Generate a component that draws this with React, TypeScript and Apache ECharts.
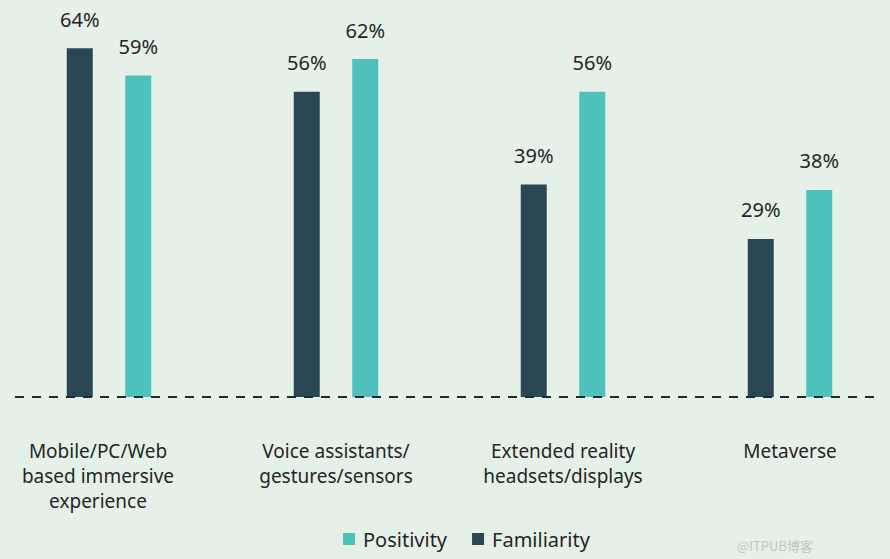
import React, { useEffect, useRef } from "react";
import * as echarts from "echarts";

const categories = [
  "Mobile/PC/Web\nbased immersive\nexperience",
  "Voice assistants/\ngestures/sensors",
  "Extended reality\nheadsets/displays",
  "Metaverse",
];
const familiarity = [64, 56, 39, 29];
const positivity = [59, 62, 56, 38];

const DARK = "#2b4756";
const TEAL = "#4dc2bc";
const TEXT = "#262626";
const FONT = "'Noto Sans', sans-serif";

export default function App() {
  const ref = useRef<HTMLDivElement>(null);
  useEffect(() => {
    if (!ref.current) return;
    const chart = echarts.init(ref.current, undefined, { renderer: "svg" });
    const label = {
      show: true,
      position: "top",
      distance: 19,
      formatter: "{c}%",
      color: TEXT,
      fontSize: 20,
      fontFamily: FONT,
    };
    chart.setOption({
      animation: false,
      backgroundColor: "#e5f0e8",
      textStyle: { fontFamily: FONT },
      grid: { left: 109, right: 100, top: 15.5, bottom: 162, containLabel: false },
      legend: {
        data: ["Positivity", "Familiarity"],
        bottom: 5,
        left: 338,
        itemWidth: 12,
        itemHeight: 12,
        itemGap: 25,
        icon: "rect",
        textStyle: { color: TEXT, fontSize: 20, fontFamily: FONT, padding: [0, 0, 0, 3] },
      },
      xAxis: {
        type: "category",
        boundaryGap: false,
        data: categories.map((c, i) =>
          i === 0 ? { value: c, textStyle: { padding: [0, 22, 0, 0] } } : c
        ),
        axisLine: { show: false },
        axisTick: { show: false },
        splitLine: { show: false },
        axisLabel: {
          color: TEXT,
          fontSize: 19,
          lineHeight: 25,
          margin: 41,
          fontFamily: FONT,
          verticalAlign: "top",
          interval: 0,
        },
      },
      yAxis: { type: "value", min: 0, max: 70, show: false },
      series: [
        {
          name: "Familiarity",
          type: "bar",
          data: familiarity,
          barWidth: 26,
          barGap: "125%",
          itemStyle: { color: DARK },
          label,
        },
        {
          name: "Positivity",
          type: "bar",
          data: positivity,
          barWidth: 26,
          barGap: "125%",
          itemStyle: { color: TEAL },
          label,
        },
      ],
      graphic: [
        {
          type: "line",
          shape: { x1: 15, y1: 397, x2: 876, y2: 397 },
          style: { stroke: "#1e2a30", lineWidth: 2, lineDash: [9, 8] },
          z: 10,
        },
        {
          type: "text",
          right: 77,
          bottom: 7,
          style: { text: "@ITPUB博客", fill: "#c2c6c4", fontSize: 13, fontFamily: "'Noto Sans CJK SC', sans-serif" },
        },
      ],
    });
    return () => chart.dispose();
  }, []);
  return (
    <div
      ref={ref}
      style={{ position: "fixed", left: 0, top: 0, width: 890, height: 559 }}
    />
  );
}
